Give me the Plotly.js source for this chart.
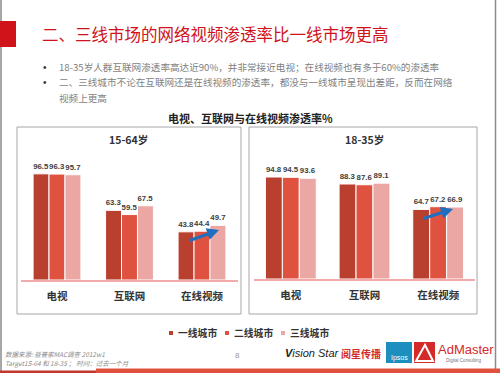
<!DOCTYPE html>
<html>
<head>
<meta charset="utf-8">
<script src="https://cdn.plot.ly/plotly-3.0.1.min.js"></script>
<style>
html,body{margin:0;padding:0;background:#fff;}
#chart{width:500px;height:373px;}
</style>
</head>
<body>
<div id="chart"></div>
<script>
// ---- data ----
const categories = ['电视', '互联网', '在线视频'];
const seriesNames = ['一线城市', '二线城市', '三线城市'];
const panelTitles = ['15-64岁', '18-35岁'];
const tier1_1564 = [96.5, 63.3, 43.8];
const tier2_1564 = [96.3, 59.5, 44.4];
const tier3_1564 = [95.7, 67.5, 49.7];
const tier1_1835 = [94.8, 88.3, 64.7];
const tier2_1835 = [94.5, 87.6, 67.2];
const tier3_1835 = [93.6, 89.1, 66.9];

const W = 500, H = 373;
const px = x => x / W;
const py = y => 1 - y / H;
const colors = ['#b9402f', '#e05240', '#eba7a4'];
const CJK = '"Noto Sans CJK SC", "Liberation Sans", sans-serif';
const NUM = '"Liberation Sans", Arial, sans-serif';

function groupTraces(data, xa, ya, groupW) {
  const w = groupW / 3;
  return data.map((vals, i) => ({
    type: 'bar',
    x: categories,
    y: vals,
    xaxis: xa, yaxis: ya,
    width: w,
    offset: -groupW / 2 + i * w,
    marker: {color: colors[i], line: {color: '#ffffff', width: 1}},
    text: vals.map(v => v.toFixed(1)),
    textposition: 'outside',
    constraintext: 'none',
    cliponaxis: false,
    textfont: {family: NUM, size: 7.8, color: '#404040', weight: 'bold'},
    hoverinfo: 'none',
    showlegend: false
  }));
}

const traces = [
  ...groupTraces([tier1_1564, tier2_1564, tier3_1564], 'x', 'y', 0.66),
  ...groupTraces([tier1_1835, tier2_1835, tier3_1835], 'x2', 'y2', 0.69)
];

const axisX = (dom, anchor) => ({
  domain: dom, anchor: anchor,
  type: 'category',
  range: [-0.5, 2.5],
  showgrid: false, zeroline: false,
  showline: true, linecolor: '#f2aaaa', linewidth: 1.5,
  ticks: '', ticklabelstandoff: 6,
  tickfont: {family: CJK, size: 10.5, color: '#333333', weight: 'bold'},
  fixedrange: true
});
const axisY = (dom, anchor) => ({
  domain: dom, anchor: anchor, range: [0, 100],
  visible: false, showgrid: false, zeroline: false, fixedrange: true
});

const shapes = [
  {type: 'line', xref: 'paper', yref: 'paper', x0: px(1), x1: px(1), y0: 0, y1: 1, line: {color: '#8a8a8a', width: 1.5}},
  {type: 'line', xref: 'paper', yref: 'paper', x0: px(495.5), x1: px(495.5), y0: 0, y1: 1, line: {color: '#8a8a8a', width: 1.5}},
  {type: 'rect', xref: 'paper', yref: 'paper', x0: 0, x1: px(16), y0: py(47), y1: py(21), fillcolor: '#d0121b', line: {width: 0}},
  {type: 'rect', xref: 'paper', yref: 'paper', x0: px(17), x1: px(241), y0: py(314), y1: py(127), line: {color: '#a6a6a6', width: 1}},
  {type: 'rect', xref: 'paper', yref: 'paper', x0: px(249), x1: px(477), y0: py(314), y1: py(127), line: {color: '#a6a6a6', width: 1}},
  {type: 'rect', xref: 'paper', yref: 'paper', x0: 0, x1: px(96), y0: py(373), y1: py(370.5), fillcolor: '#c0392b', line: {width: 0}},
  {type: 'rect', xref: 'paper', yref: 'paper', x0: px(96), x1: 1, y0: py(373), y1: py(368.5), fillcolor: '#e0503e', line: {width: 0}},
  {type: 'rect', xref: 'paper', yref: 'paper', x0: px(386), x1: px(412), y0: py(363), y1: py(342), fillcolor: '#1c8fbf', line: {width: 0}},
  {type: 'rect', xref: 'paper', yref: 'paper', x0: px(414), x1: px(435), y0: py(363), y1: py(342), fillcolor: '#d42a2a', line: {width: 0}},
  {type: 'path', xref: 'paper', yref: 'paper',
   path: `M ${px(416)} ${py(361)} L ${px(425)} ${py(345)} L ${px(433)} ${py(361)} Z`,
   fillcolor: 'rgba(0,0,0,0)', line: {color: '#ffffff', width: 2}}
];

const legendX = [171, 227, 283];
seriesNames.forEach((n, i) => {
  shapes.push({type: 'rect', xref: 'paper', yref: 'paper',
    x0: px(legendX[i] - 2), x1: px(legendX[i] + 2), y0: py(335), y1: py(331),
    fillcolor: colors[i], line: {width: 0}});
});

const ann = (x, y, text, font, extra) => Object.assign({
  xref: 'paper', yref: 'paper', x: px(x), y: py(y), text: text,
  showarrow: false, xanchor: 'left', yanchor: 'middle', font: font
}, extra || {});

const annotations = [
  ann(40, 34, '二、三线市场的网络视频渗透率比一线市场更高', {family: CJK, size: 16.5, color: '#d0121b'}),
  ann(41, 67, '•', {family: NUM, size: 10, color: '#333'}),
  ann(41, 82, '•', {family: NUM, size: 10, color: '#333'}),
  ann(57, 67, '18-35岁人群互联网渗透率高达近90%，并非常接近电视；在线视频也有多于60%的渗透率', {family: CJK, size: 9.6, color: '#7f7f7f'}),
  ann(57, 82, '二、三线城市不论在互联网还是在线视频的渗透率，都没与一线城市呈现出差距，反而在网络', {family: CJK, size: 9.6, color: '#7f7f7f'}),
  ann(57, 98, '视频上更高', {family: CJK, size: 9.6, color: '#7f7f7f'}),
  ann(250, 118, '电视、互联网与在线视频渗透率%', {family: CJK, size: 11, color: '#222', weight: 'bold'}, {xanchor: 'center'}),
  ann(128, 139, panelTitles[0], {family: CJK, size: 10.5, color: '#333', weight: 'bold'}, {xanchor: 'center'}),
  ann(364, 139, panelTitles[1], {family: CJK, size: 10.5, color: '#333', weight: 'bold'}, {xanchor: 'center'}),
  ann(3, 354, '数据来源: 益普索MAC调查 2012w1', {family: CJK, size: 6.5, color: '#8a8a8a', style: 'italic'}),
  ann(3, 363, 'Target15-64 和 18-35 ； 时间：过去一个月', {family: CJK, size: 6.5, color: '#8a8a8a', style: 'italic'}),
  ann(237, 355, '8', {family: NUM, size: 8, color: '#999'}, {xanchor: 'center'}),
  ann(283, 353, '<i><b>V</b>ision Star</i>', {family: NUM, size: 11, color: '#222'}),
  ann(339, 353, '<b>阅星传播</b>', {family: CJK, size: 10, color: '#d42a2a'}),
  ann(399, 358, 'Ipsos', {family: NUM, size: 7, color: '#fff'}, {xanchor: 'center'}),
  ann(436, 349, 'AdMaster', {family: NUM, size: 13, color: '#d42a2a'}),
  ann(464, 360, 'Digital Consulting', {family: NUM, size: 4.5, color: '#777'}, {xanchor: 'center'}),
  {xref: 'paper', yref: 'paper', x: px(219), y: py(230), ax: -31, ay: 11, axref: 'pixel', ayref: 'pixel',
   text: '', showarrow: true, arrowhead: 2, arrowsize: 0.8, arrowwidth: 3, arrowcolor: '#1f6fc1'},
  {xref: 'paper', yref: 'paper', x: px(453), y: py(209), ax: -31, ay: 10, axref: 'pixel', ayref: 'pixel',
   text: '', showarrow: true, arrowhead: 2, arrowsize: 0.8, arrowwidth: 3, arrowcolor: '#1f6fc1'}
];
seriesNames.forEach((n, i) => {
  annotations.push(ann(legendX[i] + 5, 333, n, {family: CJK, size: 9.8, color: '#333', weight: 'bold'}));
});

const layout = {
  width: W, height: H,
  margin: {l: 0, r: 0, t: 0, b: 0},
  paper_bgcolor: '#ffffff', plot_bgcolor: 'rgba(0,0,0,0)',
  barmode: 'overlay',
  showlegend: false,
  xaxis: axisX([px(20.75), px(238.25)], 'y'),
  yaxis: axisY([py(280), py(170)], 'x'),
  xaxis2: axisX([px(254), px(475)], 'y2'),
  yaxis2: axisY([py(279), py(171.4)], 'x2'),
  shapes: shapes,
  annotations: annotations
};

Plotly.newPlot('chart', traces, layout, {staticPlot: true, displayModeBar: false});
</script>
</body>
</html>
